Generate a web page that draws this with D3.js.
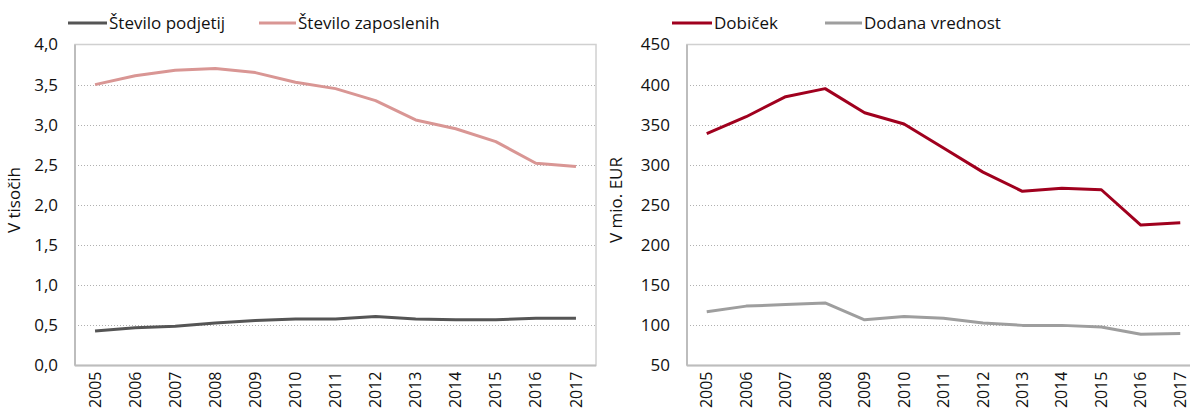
<!DOCTYPE html>
<html>
<head>
<meta charset="utf-8">
<script src="https://cdn.jsdelivr.net/npm/d3@7"></script>
<style>
  body { margin: 0; background: #fff; overflow: hidden; }
  svg text { font-family: "Open Sans", sans-serif; fill: #111; }
</style>
</head>
<body>
<svg id="chart" width="1190" height="410"></svg>
<script>

var years = ["2005","2006","2007","2008","2009","2010","2011","2012","2013","2014","2015","2016","2017"];

// left panel, v tisočih
var stPodjetij = [0.43, 0.47, 0.49, 0.53, 0.56, 0.58, 0.58, 0.61, 0.58, 0.57, 0.57, 0.59, 0.59];
var stZaposlenih = [3.50, 3.61, 3.68, 3.70, 3.65, 3.53, 3.45, 3.30, 3.06, 2.95, 2.79, 2.52, 2.48];
var leftTicks = [0, 0.5, 1, 1.5, 2, 2.5, 3, 3.5, 4];

// right panel, v mio. EUR
var dobicek = [339, 360, 385, 395, 365, 351, 321, 291, 267, 271, 269, 225, 228];
var dodana = [117, 124, 126, 128, 107, 111, 109, 103, 100, 100, 98, 89, 90];
var rightTicks = [50, 100, 150, 200, 250, 300, 350, 400, 450];

var svg = d3.select("#chart");
var TOP = 44.5, BOTTOM = 365.5;

function panel(opt) {

	var g = svg.append("g");

	var x = d3.scaleBand().domain(years).range([opt.left, opt.right]);
	var y = d3.scaleLinear().domain(opt.domain).range([BOTTOM, TOP]);

	// grid
	g.append("g").selectAll("line")
		.data(opt.ticks.slice(1, -1))
		.join("line")
		.attr("x1", opt.left).attr("x2", opt.right)
		.attr("y1", function(d) { return Math.round(y(d)) + 0.5; })
		.attr("y2", function(d) { return Math.round(y(d)) + 0.5; })
		.attr("stroke", "#b0b0b0")
		.attr("stroke-dasharray", "1,2");

	// plot border
	g.append("rect")
		.attr("x", opt.left).attr("y", TOP)
		.attr("width", opt.right - opt.left).attr("height", BOTTOM - TOP)
		.attr("fill", "none").attr("stroke", "#d0d0d0").attr("stroke-width", 1.5);
	g.append("line")
		.attr("x1", opt.left).attr("x2", opt.right)
		.attr("y1", BOTTOM).attr("y2", BOTTOM)
		.attr("stroke", "#bdbdbd").attr("stroke-width", 2);
	g.append("line")
		.attr("x1", opt.left).attr("x2", opt.left)
		.attr("y1", TOP).attr("y2", BOTTOM)
		.attr("stroke", "#bdbdbd").attr("stroke-width", 2);

	// y axis
	var ya = d3.axisLeft(y).tickValues(opt.ticks).tickSize(0).tickPadding(17).tickFormat(opt.fmt);
	var yg = g.append("g").attr("transform", "translate(" + opt.left + ",0)").call(ya);
	yg.select(".domain").remove();
	yg.selectAll("text").style("font-size", "17px").attr("fill", "#111");

	// x axis, rotated years
	var xa = d3.axisBottom(x).tickSize(0).tickPadding(0);
	var xg = g.append("g").attr("transform", "translate(0," + BOTTOM + ")").call(xa);
	xg.select(".domain").remove();
	xg.selectAll("text")
		.style("font-size", "16px")
		.attr("fill", "#111")
		.attr("text-anchor", "end")
		.attr("dy", "0.35em")
		.attr("transform", "translate(0,6) rotate(-90)")
		.attr("y", 0).attr("x", 0);

	// y title
	g.append("text")
		.attr("transform", "translate(" + opt.titleX + ",200) rotate(-90)")
		.attr("text-anchor", "middle")
		.style("font-size", "17px")
		.text(opt.title);

	// lines
	var line = d3.line()
		.x(function(d, i) { return x(years[i]) + x.bandwidth() / 2; })
		.y(function(d) { return y(d); });

	opt.series.forEach(function(s) {
		g.append("path")
			.datum(s.values)
			.attr("d", line)
			.attr("fill", "none")
			.attr("stroke", s.color)
			.attr("stroke-width", 3)
			.attr("stroke-linejoin", "round");
	});

	// legend
	opt.series.forEach(function(s) {
		var lg = g.append("g").attr("transform", "translate(" + s.lx + ",23)");
		lg.append("line").attr("x1", 0).attr("x2", s.lw).attr("y1", 0).attr("y2", 0)
			.attr("stroke", s.color).attr("stroke-width", 3);
		lg.append("text").attr("x", s.lw + 2).attr("y", 0).attr("dy", "0.33em")
			.style("font-size", "17px").text(s.name);
	});
}

var comma = function(d) { return d3.format(".1f")(d).replace(".", ","); };

panel({
	left: 75, right: 596, domain: [0, 4], ticks: leftTicks, fmt: comma,
	title: "V tisočih", titleX: 20,
	series: [
		{ name: "Število podjetij", values: stPodjetij, color: "#555555", lx: 68, lw: 39 },
		{ name: "Število zaposlenih", values: stZaposlenih, color: "#d99694", lx: 259, lw: 37 }
	]
});

panel({
	left: 687, right: 1200, domain: [50, 450], ticks: rightTicks, fmt: d3.format("d"),
	title: "V mio. EUR", titleX: 622,
	series: [
		{ name: "Dobiček", values: dobicek, color: "#a0001e", lx: 672, lw: 40 },
		{ name: "Dodana vrednost", values: dodana, color: "#9e9e9e", lx: 825, lw: 37 }
	]
});

</script>
</body>
</html>
